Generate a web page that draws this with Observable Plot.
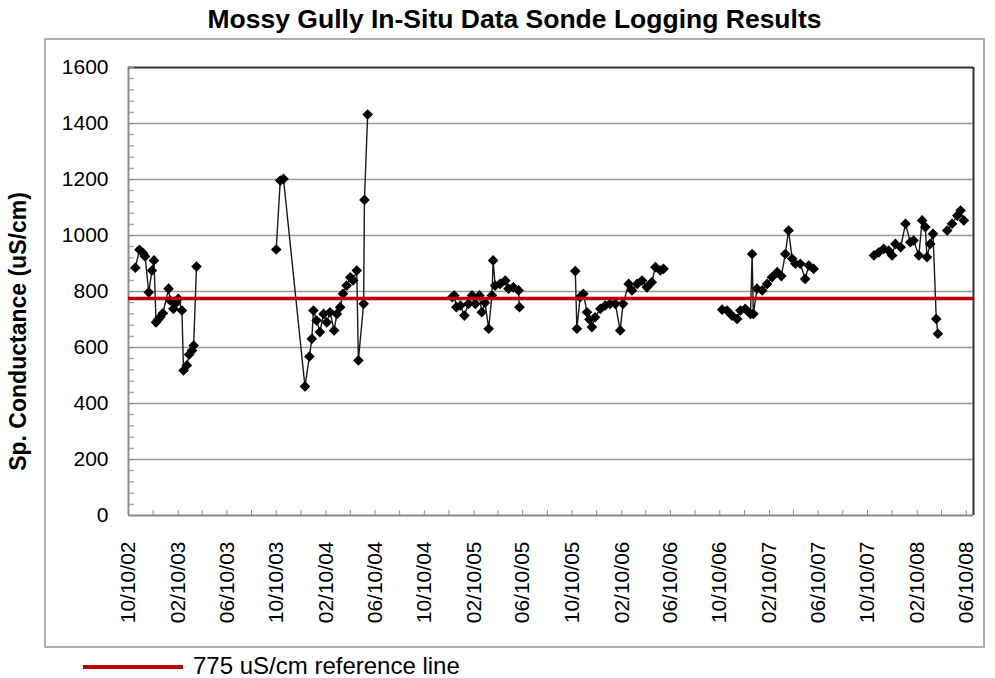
<!DOCTYPE html>
<html>
<head>
<meta charset="utf-8">
<script src="https://cdn.jsdelivr.net/npm/d3@7"></script>
<script src="https://cdn.jsdelivr.net/npm/@observablehq/plot@0.6"></script>
<style>
  html, body { margin: 0; padding: 0; background: #fff; }
  body { width: 995px; height: 678px; position: relative; overflow: hidden;
         font-family: "Liberation Sans", Arial, Helvetica, sans-serif; color: #000; }
  #title { position: absolute; left: 44px; top: 4px; width: 941px; text-align: center;
           font-weight: bold; font-size: 26.5px; line-height: 30px; }
  #border { position: absolute; left: 44px; top: 38px; width: 941px; height: 610px;
            box-sizing: border-box; border: 2px solid #b0b0b0; pointer-events: none; }
  #chart { position: absolute; left: 0; top: 38px; }
  #legend-swatch { position: absolute; left: 83px; top: 665px; width: 100px; height: 4px; background: #c00000; }
  #legend-text { position: absolute; left: 193px; top: 654px; font-size: 24px; line-height: 24px; white-space: nowrap; }
</style>
</head>
<body>
<div id="title"></div>
<div id="border"></div>
<div id="chart"></div>
<div id="legend-swatch"></div>
<div id="legend-text"></div>
<script>
// ---- Text ----
const chartTitle = "Mossy Gully In-Situ Data Sonde Logging Results";
const yLabel = "Sp. Conductance (uS/cm)";
const legendLabel = "775 uS/cm reference line";

// ---- Reference value ----
const referenceValue = [775];

// ---- Axis ticks ----
const xTickLabels = ["10/10/02","02/10/03","06/10/03","10/10/03","02/10/04","06/10/04","10/10/04",
  "02/10/05","06/10/05","10/10/05","02/10/06","06/10/06","10/10/06","02/10/07","06/10/07",
  "10/10/07","02/10/08","06/10/08"];
const xDomain = ["2002-10-10", "2008-06-28"];
const yTicks = [0, 200, 400, 600, 800, 1000, 1200, 1400, 1600];

// ---- Data (one entry per logged reading) ----
const dates = [
  // deployment 1
  "2002-10-27","2002-11-06","2002-11-15","2002-11-20","2002-11-29","2002-12-07","2002-12-12","2002-12-17",
  "2002-12-22","2002-12-27","2003-01-03","2003-01-17","2003-01-21","2003-01-29","2003-02-05","2003-02-10",
  "2003-02-19","2003-02-23","2003-03-03","2003-03-09","2003-03-16","2003-03-20","2003-03-27",
  // deployment 2
  "2003-10-10","2003-10-20","2003-10-28","2003-12-20","2003-12-31","2004-01-06","2004-01-10","2004-01-18",
  "2004-01-26","2004-02-04","2004-02-12","2004-02-20","2004-03-01","2004-03-08","2004-03-16","2004-03-23",
  "2004-04-01","2004-04-10","2004-04-17","2004-04-26","2004-04-30","2004-05-13","2004-05-15","2004-05-23",
  // deployment 3
  "2004-12-18","2004-12-23","2004-12-28","2005-01-07","2005-01-17","2005-01-27","2005-02-05","2005-02-13",
  "2005-02-23","2005-03-01","2005-03-09","2005-03-18","2005-03-26","2005-03-29","2005-04-03","2005-04-15",
  "2005-04-28","2005-05-06","2005-05-18","2005-05-31","2005-06-02",
  // deployment 4
  "2005-10-18","2005-10-22","2005-10-30","2005-11-07","2005-11-16","2005-11-22","2005-11-28","2005-12-06",
  "2005-12-19","2005-12-31","2006-01-12","2006-01-25","2006-02-06","2006-02-13","2006-02-27","2006-03-07",
  "2006-03-20","2006-04-01","2006-04-13","2006-04-25","2006-05-04","2006-05-16","2006-05-24",
  // deployment 5
  "2006-10-16","2006-10-28","2006-11-09","2006-11-22","2006-11-30","2006-12-12","2006-12-25","2006-12-29",
  "2007-01-01","2007-01-10","2007-01-23","2007-02-04","2007-02-16","2007-03-01","2007-03-11","2007-03-21",
  "2007-03-29","2007-04-07","2007-04-15","2007-04-27","2007-05-09","2007-05-18","2007-05-30",
  // deployment 6
  "2007-10-26","2007-11-07","2007-11-19","2007-12-01","2007-12-10","2007-12-18","2007-12-31","2008-01-12",
  "2008-01-24","2008-02-01","2008-02-14","2008-02-22","2008-03-01","2008-03-05","2008-03-13","2008-03-20",
  "2008-03-28","2008-04-01",
  // deployment 7
  "2008-04-24","2008-05-06","2008-05-19","2008-05-27","2008-06-04"
];
const conductance = [
  885, 949, 937, 925, 797, 875, 911, 690,
  700, 708, 722, 810, 768, 738, 760, 774,
  732, 518, 536, 575, 589, 607, 889,

  950, 1196, 1202, 461, 568, 631, 732, 696,
  655, 720, 690, 726, 661, 720, 744, 792,
  821, 851, 840, 875, 554, 756, 1127, 1432,

  780, 786, 744, 750, 714, 756, 786, 756,
  786, 726, 760, 667, 786, 911, 821, 827,
  839, 810, 815, 804, 744,

  873, 667, 780, 792, 726, 700, 673, 708,
  738, 750, 756, 756, 661, 756, 827, 804,
  827, 839, 815, 833, 887, 875, 881,

  735, 732, 714, 702, 732, 738, 720, 934,
  720, 810, 804, 827, 851, 869, 855, 934,
  1018, 917, 899, 899, 845, 893, 881,

  929, 940, 952, 946, 929, 970, 958, 1042,
  976, 982, 929, 1054, 1030, 923, 970, 1006,
  702, 649,

  1018, 1042, 1071, 1089, 1054
];
const deployment = [
  1,1,1,1,1,1,1,1, 1,1,1,1,1,1,1,1, 1,1,1,1,1,1,1,
  2,2,2,2,2,2,2,2, 2,2,2,2,2,2,2,2, 2,2,2,2,2,2,2,2,
  3,3,3,3,3,3,3,3, 3,3,3,3,3,3,3,3, 3,3,3,3,3,
  4,4,4,4,4,4,4,4, 4,4,4,4,4,4,4,4, 4,4,4,4,4,4,4,
  5,5,5,5,5,5,5,5, 5,5,5,5,5,5,5,5, 5,5,5,5,5,5,5,
  6,6,6,6,6,6,6,6, 6,6,6,6,6,6,6,6, 6,6,
  7,7,7,7,7
];

// ---- Build ----
const parseISO = d3.utcParse("%Y-%m-%d");
const parseTick = d3.utcParse("%m/%d/%y");
const data = dates.map((d, i) => ({date: parseISO(d), value: conductance[i], deployment: deployment[i]}));
const xStart = parseISO(xDomain[0]);
const xEnd = parseISO(xDomain[1]);
const xMajor = xTickLabels.map(parseTick);
const xMinor = xMajor.flatMap(d => [d, d3.utcMonth.offset(d, 2)]).filter(d => d <= xEnd);
const yMinor = d3.range(yTicks[0], yTicks[yTicks.length - 1] + 1, (yTicks[1] - yTicks[0]) / 5);
const fmt = d3.utcFormat("%m/%d/%y");

document.getElementById("title").textContent = chartTitle;
document.getElementById("legend-text").textContent = legendLabel;

const chart = Plot.plot({
  width: 995,
  height: 610,
  marginTop: 29,
  marginBottom: 133,
  marginLeft: 128,
  marginRight: 22,
  style: {fontFamily: '"Liberation Sans", Arial, sans-serif', background: "transparent", color: "#000", overflow: "visible"},
  x: {type: "utc", domain: [xStart, xEnd]},
  y: {domain: [yTicks[0], yTicks[yTicks.length - 1]]},
  marks: [
    Plot.ruleY(yTicks.slice(1, -1), {stroke: "#9a9a9a", strokeWidth: 1.5}),
    Plot.ruleY([yTicks[0]], {stroke: "#8c8c8c", strokeWidth: 2}),
    Plot.ruleX([xStart], {stroke: "#8c8c8c", strokeWidth: 2}),
    Plot.ruleY([yTicks[yTicks.length - 1]], {stroke: "#333", strokeWidth: 2}),
    Plot.ruleX([xEnd], {stroke: "#333", strokeWidth: 2}),
    Plot.axisY({ticks: yMinor, tickSize: -6, tickFormat: () => "", stroke: "#8c8c8c", label: null}),
    Plot.axisY({ticks: yTicks, tickSize: 0, tickPadding: 20, fontSize: 21, tickFormat: d => String(d), label: null}),
    Plot.axisX({ticks: xMinor, tickSize: -5, tickFormat: () => "", stroke: "#8c8c8c", label: null}),
    Plot.axisX({ticks: xMajor, tickSize: 0, tickPadding: 26, tickRotate: -90, tickFormat: fmt, fontSize: 21, label: null}),
    Plot.text([yLabel], {text: d => d, frameAnchor: "left", textAnchor: "middle", dx: -110, dy: 40, rotate: -90,
      fontSize: 23, fontWeight: "bold", fill: "#000"}),
    Plot.line(data, {x: "date", y: "value", z: "deployment", stroke: "#1a1a1a", strokeWidth: 1.4}),
    Plot.dot(data, {x: "date", y: "value", symbol: "diamond2", r: 4.8, fill: "#000", stroke: null}),
    Plot.ruleY(referenceValue, {stroke: "#c00000", strokeWidth: 3.5})
  ]
});
document.getElementById("chart").appendChild(chart);
</script>
</body>
</html>
